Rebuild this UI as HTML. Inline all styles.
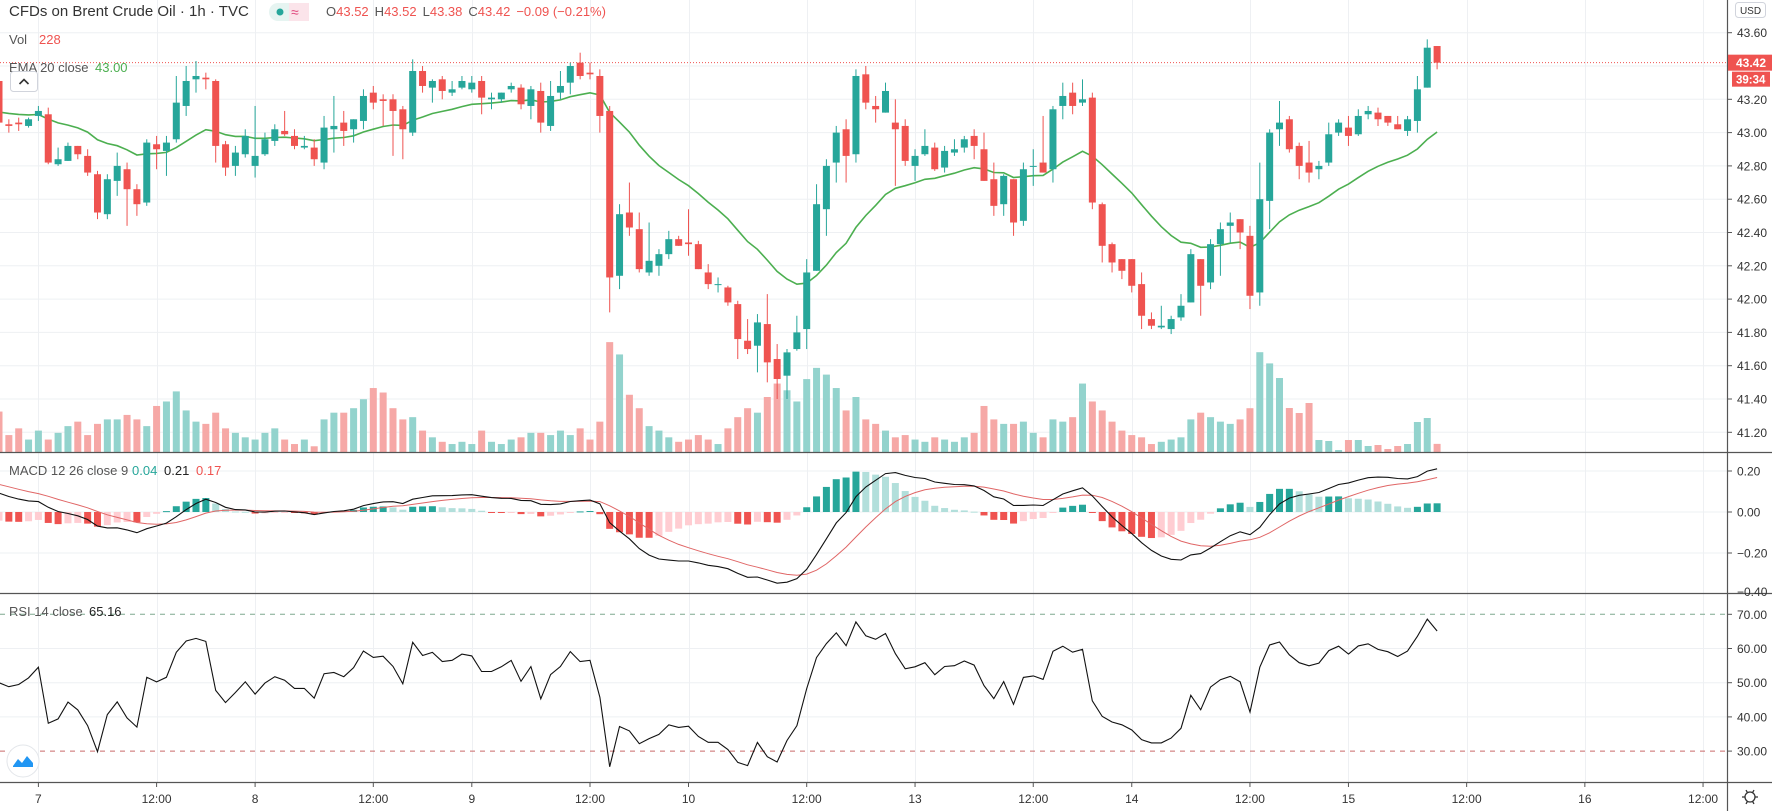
<!DOCTYPE html>
<html><head><meta charset="utf-8"><style>
html,body{margin:0;padding:0;background:#fff;}
svg{display:block;font-family:"Liberation Sans",sans-serif;}
</style></head><body>
<svg id="chart" width="1772" height="811" viewBox="0 0 1772 811" xmlns="http://www.w3.org/2000/svg">
<rect x="0" y="0" width="1772" height="811" fill="#ffffff"/>
<g id="grid"></g>
<g id="vol"></g>
<g id="candles"></g>
<g id="macd"></g>
<g id="rsi"></g>
<g id="axes"></g>
<g id="labels">
  <text x="9" y="16" font-size="15" fill="#333">CFDs on Brent Crude Oil · 1h · TVC</text>
  <g>
    <rect x="269" y="3" width="40" height="18" rx="9" fill="#e6f4f1"/>
    <rect x="289" y="3" width="20" height="18" rx="0" fill="#fbe4ea"/>
    <rect x="297" y="3" width="12" height="18" rx="9" fill="#fbe4ea"/>
    <circle cx="280" cy="12" r="3.5" fill="#26a69a"/>
    <text x="291" y="17" font-size="14" fill="#e0457b">≈</text>
  </g>
  <text x="326" y="16" font-size="13"><tspan fill="#555">O</tspan><tspan fill="#ef5350">43.52</tspan><tspan fill="#555" dx="6">H</tspan><tspan fill="#ef5350">43.52</tspan><tspan fill="#555" dx="6">L</tspan><tspan fill="#ef5350">43.38</tspan><tspan fill="#555" dx="6">C</tspan><tspan fill="#ef5350">43.42</tspan><tspan fill="#ef5350" dx="6">−0.09 (−0.21%)</tspan></text>
  <text x="9" y="44" font-size="13" fill="#555">Vol <tspan x="39" fill="#ef5350">228</tspan></text>
  <text x="9" y="72" font-size="13" fill="#555">EMA 20 close <tspan x="95" fill="#4caf50">43.00</tspan></text>
  <g>
    <rect x="10.5" y="71.5" width="27" height="20" rx="3" fill="#fff" stroke="#d1d4dc"/>
    <path d="M19.5 84 L24 79.5 L28.5 84" fill="none" stroke="#333" stroke-width="1.6"/>
  </g>
  <text x="9" y="475" font-size="13" fill="#555">MACD 12 26 close 9 <tspan x="132" fill="#26a69a">0.04</tspan><tspan x="164" fill="#222">0.21</tspan><tspan x="196" fill="#ef5350">0.17</tspan></text>
  <text x="9" y="616" font-size="13" fill="#555">RSI 14 close <tspan x="89" fill="#222">65.16</tspan></text>
  <g>
    <circle cx="23" cy="761" r="16" fill="#fff" stroke="#e3e6ea"/>
    <path d="M13 766 L18 759 L22 763 L27 756 L33 763 L33 767 L13 767 Z" fill="#2196f3"/>
  </g>
</g>
</svg>
<script>
const opens=[43.31,43.05,43.06,43.04,43.10,43.11,42.81,42.83,42.92,42.86,
42.75,42.51,42.71,42.78,42.66,42.58,42.93,42.89,42.96,43.16,
43.32,43.33,43.31,42.93,42.80,42.87,42.80,42.87,42.95,43.01,
42.98,42.91,42.91,42.82,43.02,43.06,43.02,43.07,43.24,43.20,
43.20,43.14,43.00,43.37,43.27,43.32,43.24,43.27,43.26,43.31,
43.20,43.20,43.26,43.27,43.16,43.25,43.04,43.24,43.30,43.42,
43.36,43.34,43.13,42.14,42.52,42.42,42.16,42.20,42.27,42.36,
42.34,42.33,42.16,42.09,42.07,41.97,41.75,41.72,41.85,41.64,
41.54,41.70,41.82,42.17,42.54,42.82,43.02,42.87,43.35,43.16,
43.12,43.06,43.04,42.80,42.87,42.91,42.79,42.88,42.91,42.98,
42.90,42.72,42.57,42.72,42.47,42.80,42.82,42.78,43.16,43.24,
43.18,43.21,42.57,42.33,42.24,42.24,42.09,41.88,41.83,41.82,
41.89,41.98,42.24,42.10,42.33,42.44,42.48,42.38,42.04,42.59,
43.02,43.08,42.92,42.82,42.78,42.82,43.00,43.03,42.99,43.11,
43.12,43.10,43.05,43.01,43.07,43.27,43.52];
const closes=[43.06,43.04,43.05,43.08,43.13,42.82,42.84,42.92,42.87,42.76,
42.52,42.72,42.80,42.66,42.57,42.94,42.90,42.94,43.18,43.31,
43.34,43.32,42.92,42.79,42.88,42.98,42.86,42.96,43.02,42.99,
42.92,42.92,42.84,43.03,43.04,43.01,43.08,43.22,43.18,43.19,
43.13,43.02,43.37,43.28,43.31,43.25,43.26,43.31,43.30,43.21,
43.21,43.24,43.28,43.17,43.26,43.06,43.22,43.28,43.40,43.34,
43.35,43.10,42.13,42.51,42.43,42.18,42.23,42.27,42.36,42.32,
42.33,42.18,42.09,42.09,41.98,41.76,41.70,41.86,41.62,41.52,
41.68,41.80,42.16,42.57,42.80,43.00,42.86,43.34,43.18,43.14,
43.25,43.02,42.83,42.86,42.92,42.78,42.89,42.90,42.96,42.92,
42.71,42.56,42.74,42.46,42.78,42.80,42.76,43.14,43.22,43.16,
43.20,42.58,42.32,42.22,42.17,42.08,41.90,41.84,41.84,41.88,
41.96,42.27,42.08,42.33,42.42,42.46,42.40,42.02,42.60,43.00,
43.06,42.90,42.80,42.76,42.80,42.99,43.06,42.98,43.10,43.13,
43.08,43.06,43.02,43.08,43.26,43.51,43.42];
const highs=[43.32,43.08,43.09,43.09,43.16,43.15,42.91,42.94,42.92,42.90,
42.77,42.75,42.88,42.82,42.69,42.96,42.98,42.98,43.34,43.40,
43.43,43.36,43.32,42.95,42.92,43.02,43.16,43.00,43.05,43.13,
43.02,42.98,42.96,43.10,43.22,43.13,43.08,43.26,43.28,43.23,
43.23,43.16,43.44,43.40,43.32,43.34,43.31,43.34,43.34,43.34,
43.24,43.24,43.30,43.29,43.28,43.30,43.31,43.37,43.42,43.48,
43.42,43.38,43.16,42.57,42.70,42.52,42.46,42.30,42.41,42.38,
42.54,42.35,42.21,42.13,42.08,41.99,41.88,41.91,42.03,41.73,
41.70,41.90,42.24,42.69,42.84,43.04,43.08,43.38,43.40,43.22,
43.30,43.20,43.08,42.90,43.02,42.94,42.92,42.96,42.98,43.02,
43.00,42.82,42.75,42.72,42.82,42.90,43.10,43.16,43.30,43.30,
43.32,43.24,42.58,42.34,42.24,42.24,42.16,41.92,41.96,41.90,
42.03,42.30,42.24,42.36,42.46,42.52,42.48,42.44,42.82,43.02,
43.19,43.10,42.94,42.95,42.83,43.06,43.08,43.10,43.14,43.16,
43.15,43.10,43.10,43.10,43.34,43.56,43.52];
const lows=[43.06,43.00,43.01,43.03,43.07,42.81,42.80,42.83,42.84,42.74,
42.48,42.48,42.62,42.44,42.50,42.56,42.78,42.74,42.94,43.10,
43.24,43.26,42.82,42.74,42.74,42.85,42.73,42.86,42.92,42.98,
42.90,42.90,42.80,42.78,42.88,42.92,42.94,43.02,43.14,43.04,
42.86,42.84,42.98,43.24,43.18,43.20,43.22,43.26,43.24,43.11,
43.14,43.18,43.24,43.14,43.08,43.00,43.01,43.20,43.23,43.32,
43.32,43.00,41.92,42.06,42.38,42.16,42.14,42.14,42.24,42.32,
42.26,42.18,42.06,42.04,41.96,41.64,41.67,41.56,41.50,41.40,
41.40,41.69,41.70,42.17,42.38,42.70,42.70,42.82,43.14,43.06,
43.12,42.68,42.80,42.71,42.86,42.77,42.76,42.86,42.88,42.84,
42.71,42.50,42.50,42.38,42.44,42.68,42.76,42.70,43.08,43.11,
43.16,42.54,42.22,42.16,42.12,42.04,41.82,41.82,41.82,41.79,
41.87,41.98,41.90,42.06,42.14,42.34,42.30,41.94,41.96,42.42,
42.92,42.88,42.72,42.70,42.72,42.80,42.98,42.92,42.98,43.08,
43.04,43.04,43.02,42.98,43.00,43.27,43.38];
const volumes=[1036,448,616,336,560,336,504,672,784,448,728,840,840,952,840,672,
1176,1288,1540,1064,784,728,1008,616,504,392,336,504,616,336,
224,336,168,840,1008,1008,1120,1344,1624,1512,1120,840,896,560,392,280,
224,280,224,560,280,224,336,392,504,504,448,560,448,616,336,784,
2772,2464,1456,1120,672,560,392,280,336,448,336,224,616,896,1120,1008,
1400,1736,1568,1288,1848,2128,1960,1624,1064,1400,840,728,560,392,448,336,
280,392,336,280,392,504,1176,840,728,728,784,504,392,840,784,896,
1736,1288,1064,784,560,448,392,224,280,336,392,840,1008,896,784,728,840,1120,2520,2240,
1875,1125,1000,1250,325,300,75,325,325,175,200,100,175,225,775,875,228];
const timeTickLabels=['7','12:00','8','12:00','9','12:00','10','12:00','13','12:00','14','12:00','15','12:00','16','12:00'];
const timeTickIndex=[4,16,26,38,48,60,70,82,93,105,115,127,137,149,161,173];
const priceTicks=[43.60,43.40,43.20,43.00,42.80,42.60,42.40,42.20,42.00,41.80,41.60,41.40,41.20];
const macdTicks=[0.20,0.00,-0.20,-0.40];
const rsiTicks=[70,60,50,40,30];
const lastPrice=[43.42];
const emaSeed=[43.13];
const macdSeed=[43.18,43.07,0.145];
const rsiSeed=[0.035,0.035];

const NS='http://www.w3.org/2000/svg';
function mk(parent,tag,attrs){const e=document.createElementNS(NS,tag);for(const k in attrs)e.setAttribute(k,attrs[k]);parent.appendChild(e);return e;}
const xS=i=>-1+9.85*i;
const yP=p=>32.7+(43.6-p)*166.5;
const yV=v=>453-v*0.04;
const yM=v=>512-v*205;
const yR=v=>614.3+(70-v)*3.42;
const PLOT_R=1727;
const UP='#26a69a',DN='#ef5350';

const grid=document.getElementById('grid');
priceTicks.forEach(p=>{const l=mk(grid,'line',{x1:0,x2:PLOT_R,y1:yP(p),y2:yP(p),stroke:'#eef0f3'});

});
macdTicks.forEach(v=>{if(v<-0.3)return;const l=mk(grid,'line',{x1:0,x2:PLOT_R,y1:yM(v),y2:yM(v),stroke:'#eef0f3'});

});
rsiTicks.forEach(v=>{if(v===70||v===30)return;const l=mk(grid,'line',{x1:0,x2:PLOT_R,y1:yR(v),y2:yR(v),stroke:'#eef0f3'});

});
timeTickIndex.forEach(i=>{const x=Math.round(xS(i))+0.5;const l=mk(grid,'line',{x1:x,x2:x,y1:0,y2:782,stroke:'#eef0f3'});

});

const vg=document.getElementById('vol');
volumes.forEach((v,i)=>{const up=closes[i]>=opens[i];const r=mk(vg,'rect',{x:xS(i)-3.5,y:yV(v),width:7,height:453-yV(v),fill:up?'#93d3cd':'#f6a8a6'});

});

const emaVals=[];let e=emaSeed[0];const k20=2/21;
closes.forEach(c=>{e=e+k20*(c-e);emaVals.push(e);});
const cg=document.getElementById('candles');
const emaPath=mk(cg,'path',{d:emaVals.map((v,i)=>(i?'L':'M')+xS(i).toFixed(1)+' '+yP(v).toFixed(1)).join(' '),fill:'none',stroke:'#4caf50','stroke-width':1.6});



const lp=mk(cg,'line',{x1:0,x2:PLOT_R,y1:yP(lastPrice[0]),y2:yP(lastPrice[0]),stroke:'#ef5350','stroke-dasharray':'1 2'});



closes.forEach((c,i)=>{const o=opens[i],up=c>=o,col=up?UP:DN,x=xS(i);
const g=mk(cg,'g',{});


mk(g,'line',{x1:x,x2:x,y1:yP(highs[i]),y2:yP(lows[i]),stroke:col,'stroke-width':1});
const t=yP(Math.max(o,c)),b=yP(Math.min(o,c));
mk(g,'rect',{x:x-3.5,y:t,width:7,height:Math.max(1,b-t),fill:col});});

const mg=document.getElementById('macd');
let e12=macdSeed[0],e26=macdSeed[1],sig=macdSeed[2];
const macdVals=[],sigVals=[],histVals=[];
closes.forEach(c=>{e12+=2/13*(c-e12);e26+=2/27*(c-e26);const m=e12-e26;sig+=0.2*(m-sig);macdVals.push(m);sigVals.push(sig);histVals.push(m-sig);});
histVals.forEach((h,i)=>{const prev=i?histVals[i-1]:h;let col;
if(h>=0)col=h>=prev?'#26a69a':'#b2dfdb';else col=h<prev?'#ef5350':'#ffcdd2';
const y0=yM(0),y1=yM(h);
const r=mk(mg,'rect',{x:xS(i)-3.5,y:Math.min(y0,y1),width:7,height:Math.max(1,Math.abs(y1-y0)),fill:col});

});
const sp=mk(mg,'path',{d:sigVals.map((v,i)=>(i?'L':'M')+xS(i).toFixed(1)+' '+yM(v).toFixed(1)).join(' '),fill:'none',stroke:'#e06666','stroke-width':1});


const mp=mk(mg,'path',{d:macdVals.map((v,i)=>(i?'L':'M')+xS(i).toFixed(1)+' '+yM(v).toFixed(1)).join(' '),fill:'none',stroke:'#111','stroke-width':1.1});



const rg=document.getElementById('rsi');
const l70=mk(rg,'line',{x1:0,x2:PLOT_R,y1:yR(70),y2:yR(70),stroke:'#7fa88f','stroke-dasharray':'5 5'});


const l30=mk(rg,'line',{x1:0,x2:PLOT_R,y1:yR(30),y2:yR(30),stroke:'#c96a6a','stroke-dasharray':'5 5'});


let ag=rsiSeed[0],al=rsiSeed[1];const rsiVals=[];
closes.forEach((c,i)=>{const prev=i?closes[i-1]:c;const d=c-prev;ag=(ag*13+Math.max(d,0))/14;al=(al*13+Math.max(-d,0))/14;rsiVals.push(100-100/(1+ag/al));});
const rp=mk(rg,'path',{d:rsiVals.map((v,i)=>(i?'L':'M')+xS(i).toFixed(1)+' '+yR(v).toFixed(1)).join(' '),fill:'none',stroke:'#111','stroke-width':1.1});



const ax=document.getElementById('axes');
[[452.5,'main-macd-separator'],[593.5,'macd-rsi-separator'],[782.5,'time-axis-line']].forEach(([y,n])=>{const l=mk(ax,'line',{x1:0,x2:1772,y1:y,y2:y,stroke:'#555','stroke-width':1.2});

});
const va=mk(ax,'line',{x1:1727.5,x2:1727.5,y1:0,y2:811,stroke:'#555','stroke-width':1.2});


function axLabel(y,txt,name){mk(ax,'line',{x1:1727,x2:1732,y1:y,y2:y,stroke:'#555'});
const t=mk(ax,'text',{x:1737,y:y+4.5,'font-size':12,fill:'#333'});t.textContent=txt;

}
priceTicks.forEach(p=>{if(Math.abs(p-43.4)<0.01)return;axLabel(yP(p),p.toFixed(2),'price-tick-label');});
macdTicks.forEach(v=>{if(v<-0.3){const t=mk(ax,'text',{x:1737,y:596,'font-size':12,fill:'#333'});t.textContent='−0.40';

return;}
axLabel(yM(v),(v<0?'−':'')+Math.abs(v).toFixed(2),'macd-tick-label');});
rsiTicks.forEach(v=>axLabel(yR(v),v.toFixed(2),'rsi-tick-label'));
timeTickIndex.forEach((i,j)=>{const x=xS(i);mk(ax,'line',{x1:x,x2:x,y1:782,y2:787,stroke:'#555'});
const t=mk(ax,'text',{x:x,y:803,'font-size':12,fill:'#333','text-anchor':'middle'});t.textContent=timeTickLabels[j];

});
const ub=mk(ax,'rect',{x:1735.5,y:2.5,width:30,height:15,rx:3,fill:'#fff',stroke:'#d1d4dc'});


const ut=mk(ax,'text',{x:1750.5,y:14,'font-size':10,fill:'#333','text-anchor':'middle'});ut.textContent='USD';


const py=yP(lastPrice[0]);
const pt=mk(ax,'rect',{x:1728,y:py-8,width:44,height:16,fill:'#ef5350'});


const ptt=mk(ax,'text',{x:1736,y:py+4.5,'font-size':12,fill:'#fff','font-weight':'bold'});ptt.textContent=lastPrice[0].toFixed(2);


const ct=mk(ax,'rect',{x:1732,y:py+9,width:38,height:15,fill:'#ef5350'});


const ctt=mk(ax,'text',{x:1736,y:py+21,'font-size':11.5,fill:'#fff','font-weight':'bold'});ctt.textContent='39:34';


const gear=mk(ax,'g',{});


mk(gear,'circle',{cx:1750,cy:797,r:5,fill:'none',stroke:'#333','stroke-width':1.3});
[0,60,120].forEach(a=>{const r=a*Math.PI/180;mk(gear,'line',{x1:1750-8*Math.cos(r),y1:797-8*Math.sin(r),x2:1750+8*Math.cos(r),y2:797+8*Math.sin(r),stroke:'#333','stroke-width':1.3,'stroke-dasharray':'3 10'});});
</script>
</body></html>
